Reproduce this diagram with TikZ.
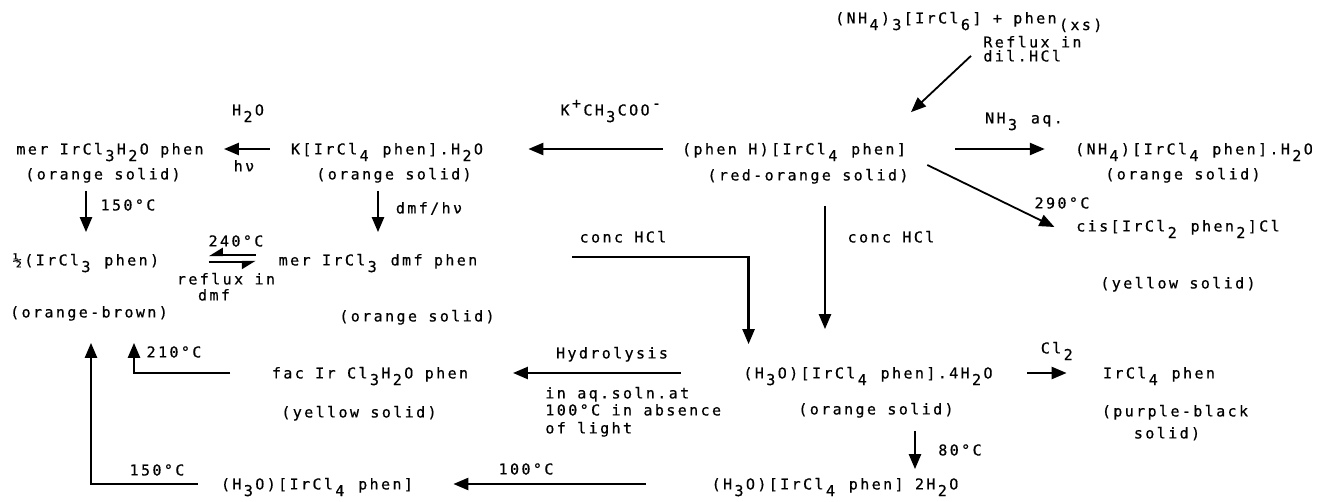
\documentclass[tikz,border=0pt]{standalone}
\usepackage{fontspec}
\usetikzlibrary{arrows.meta}
\newfontfamily\mono[LetterSpace=16,FakeBold=0.6]{DejaVu Sans Mono}
\newcommand\chem{\mono\fontsize{7.5pt}{7.5pt}\selectfont}
\newcommand\dn[1]{\kern0.16em\raisebox{-3.3pt}{#1}\kern0.16em\relax}
\newcommand\up[1]{\kern0.16em\raisebox{3.5pt}{#1}\kern0.16em\relax}
\begin{document}
\begin{tikzpicture}[x=0.5pt,y=-0.5pt,node distance=12.5pt,
    every node/.style={inner sep=0pt,text height=5.45pt,text depth=0pt,font=\chem},
    rxn/.style={-{Triangle[length=7.5pt,width=6pt]},line width=1.2pt},
    harp/.style={-{Triangle[harpoon,swap,length=6pt,width=7pt]},line width=1.2pt}]
      \useasboundingbox (0,0) rectangle (1319,502);

      \node (0) at (970,18) {(NH\dn{4})\dn{3}[IrCl\dn{6}] + phen\dn{(xs)}};
      \node (1) at (110,149) {mer IrCl\dn{3}H\dn{2}O phen};
      \node (2) at (387,149) {K[IrCl\dn{4} phen].H\dn{2}O};
      \node (3) at (794,149) {(phen H)[IrCl\dn{4} phen]};
      \node (4) at (1194,149) {(NH\dn{4})[IrCl\dn{4} phen].H\dn{2}O};
      \node (5) [below of=1,xshift=-3.5pt] {(orange solid)};
      \node (6) [below of=2,xshift=3.5pt] {(orange solid)};
      \node (7) [below of=3,xshift=7pt,yshift=-0.5pt] {(red-orange solid)};
      \node (8) [below of=4,xshift=-5.5pt] {(orange solid)};
      \node (9) at (1178,226) {cis[IrCl\dn{2} phen\dn{2}]Cl};
      \node (10) [below of=9,yshift=-16pt] {(yellow solid)};
      \node (11) at (86,260) {½(IrCl\dn{3} phen)};
      \node (12) at (378,260) {mer IrCl\dn{3} dmf phen};
      \node (13) [below of=11,xshift=1.5pt,yshift=-13.5pt] {(orange-brown)};
      \node (14) [below of=12,xshift=19.5pt,yshift=-15.5pt] {(orange solid)};
      \node (15) at (868,373) {(H\dn{3}O)[IrCl\dn{4} phen].4H\dn{2}O};
      \node (16) [below of=15,xshift=4pt,yshift=-5.5pt] {(orange solid)};
      \node (17) at (1159,373) {IrCl\dn{4} phen};
      \node (18) [below of=17,xshift=8pt,yshift=-6.5pt] {(purple-black};
      \node (19) [below of=18,xshift=-4pt,yshift=1.5pt] {solid)};
      \node (20) at (370,373) {fac Ir Cl\dn{3}H\dn{2}O phen};
      \node (21) [below of=20,xshift=-5.5pt,yshift=-7pt] {(yellow solid)};
      \node (22) at (317,484) {(H\dn{3}O)[IrCl\dn{4} phen]};
      \node (23) at (835,484) {(H\dn{3}O)[IrCl\dn{4} phen] 2H\dn{2}O};

      \node (h2o) at (248,110) {H\dn{2}O};
      \node (hnu) at (244,166) {hν};
      \node (kac) at (612,110) {K\up{+}CH\dn{3}COO\up{-}};
      \node (nh3) at (1024,118) {NH\dn{3} aq.};
      \node[anchor=west] (rfx) at (983,42) {Reflux in};
      \node[anchor=west] (dil) at (983,56) {dil.HCl};
      \node (t290) at (1062,203) {290°C};
      \node (t150a) at (128,205) {150°C};
      \node (dmfhnu) at (429,208) {dmf/hν};
      \node (t240) at (236,241) {240°C};
      \node (rfx2) at (226,279) {reflux in};
      \node (dmf) at (214,295) {dmf};
      \node (hcl1) at (623,237) {conc HCl};
      \node (hcl2) at (891,237) {conc HCl};
      \node (hyd) at (612,353) {Hydrolysis};
      \node[anchor=west] (aq1) at (545,393) {in aq.soln.at};
      \node[anchor=west] (aq2) at (545,410) {100°C in absence};
      \node[anchor=west] (aq3) at (545,428) {of light};
      \node (cl2) at (1058,348) {Cl\dn{2}};
      \node (t210) at (174,352) {210°C};
      \node (t80) at (960,450) {80°C};
      \node (t100) at (526,469) {100°C};
      \node (t150b) at (157,470) {150°C};
      \coordinate (c1) at (572,257);

      \draw[rxn,shorten <=10.5pt,shorten >=10pt] (2.west) -- (1.east);
      \draw[rxn,shorten <=9.5pt,shorten >=22.5pt] (3.west) -- (2.east);
      \draw[rxn,shorten <=24.5pt,shorten >=15pt] (3.east) -- (4.west);
      \draw[rxn,line width=0.9pt] ([xshift=0.5pt,yshift=-16pt]0.south) -- ([xshift=58.5pt,yshift=15.5pt]3.north);
      \draw[rxn,line width=0.9pt] ([xshift=10.5pt,yshift=-8pt]3.east) -- ([xshift=-10.75pt,yshift=-0.5pt]9.west);
      \draw[rxn,shorten <=5.5pt,shorten >=11pt] (11.north |- 5.south) -- (11.north);
      \draw[rxn,shorten <=5.5pt,shorten >=11pt] (12.north |- 6.south) -- (12.north);
      \draw[rxn,shorten <=12.5pt,shorten >=19pt] ([xshift=-21.5pt]15.north |- 7.south) -- ([xshift=-21.5pt]15.north);
      \draw[rxn,shorten >=11.5pt] (c1) -| ([xshift=2.75pt]15.north west);
      \draw[rxn,shorten <=8pt,shorten >=4.5pt] ([xshift=19.5pt]16.south) -- ([xshift=19.5pt]16.south |- 23.north);
      \draw[rxn,shorten <=17.25pt,shorten >=18pt] (15.east) -- (17.west);
      \draw[rxn,shorten <=31.25pt,shorten >=22.25pt] (15.west) -- (20.east);
      \draw[rxn,shorten <=32.75pt,shorten >=20pt] (23.west) -- (22.east);
      \draw[rxn,shorten >=12.5pt] ([xshift=-11.5pt]22.west) -| ([xshift=1pt]13.south);
      \draw[rxn,shorten >=12.5pt] ([xshift=-20.75pt]20.west) -| ([xshift=22.5pt]13.south);
      \draw[harp,shorten <=11.25pt,shorten >=24.6pt] ([yshift=2.5pt]12.west) -- ([yshift=2.5pt]11.east);
      \draw[harp,shorten <=24.6pt,shorten >=11.25pt] ([yshift=-1pt]11.east) -- ([yshift=-1pt]12.west);
    \end{tikzpicture}
\end{document}
